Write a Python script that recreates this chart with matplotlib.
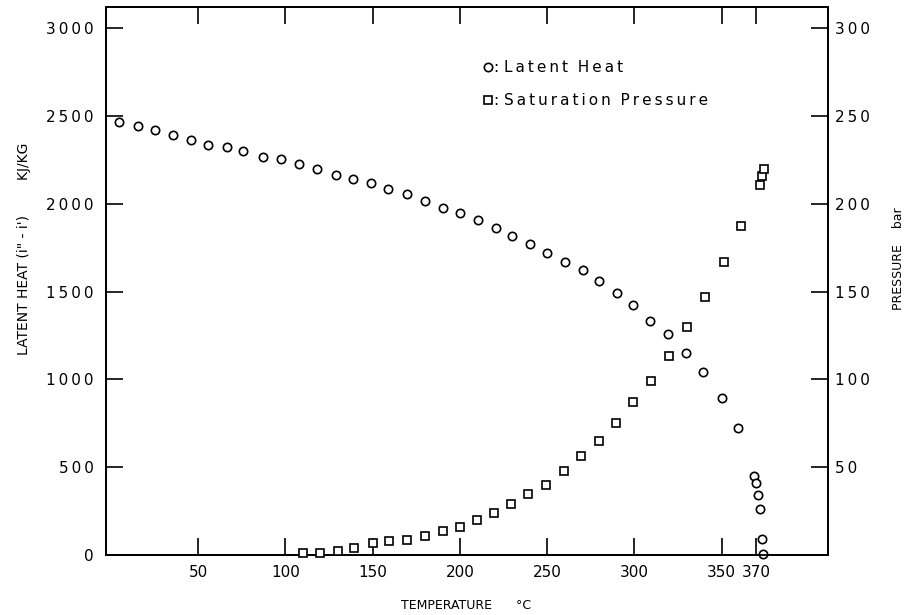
import matplotlib
matplotlib.use("Agg")
import matplotlib.pyplot as plt

plt.rcParams['font.family'] = ['DejaVu Sans']

# latent heat (circles)
temp_latent = [4.7, 15.6, 25.3, 35.7, 46, 55.7, 66.6, 75.8, 87.3, 97.6, 107.9, 118.2,
               129.1, 138.9, 149.2, 158.9, 169.8, 180.2, 190.5, 200.2, 210.5, 220.9,
               230, 240.4, 250.1, 260.4, 270.7, 279.9, 290.2, 299.5, 309.2, 319.5,
               329.8, 339.6, 350.4, 359.6, 368.8, 369.9, 371.1, 372.2, 373.4, 373.9]
latent_heat = [2463, 2442, 2419, 2390, 2362, 2334, 2324, 2300, 2267, 2252, 2226, 2195,
               2163, 2138, 2116, 2082, 2053, 2015, 1973, 1945, 1907, 1863,
               1816, 1769, 1717, 1666, 1622, 1560, 1493, 1423, 1334, 1256,
               1152, 1044, 896, 721, 451, 408, 342, 260, 91, 6]

# saturation pressure (squares)
temp_press = [110.3, 120, 130, 139.4, 150.2, 159.5, 170, 180.2, 190.3, 200.2, 209.8,
              219.7, 229.3, 239.2, 249.5, 259.5, 269.4, 280, 289.7, 299.3, 309.6,
              319.7, 330, 340.7, 351.2, 361.4, 372.3, 373.2, 374.2]
pressure = [1.1, 1.3, 2.3, 4.2, 6.7, 8.0, 8.5, 11.0, 13.8, 16.1, 19.9,
            24.1, 29.0, 34.6, 40.1, 48.0, 56.3, 65.1, 75.3, 87.3, 99.0,
            113.4, 129.9, 147.0, 166.9, 187.4, 210.6, 215.7, 219.5]

x_ticks = [50, 100, 150, 200, 250, 300, 350, 370]
left_ticks = [0, 500, 1000, 1500, 2000, 2500, 3000]
right_ticks = [50, 100, 150, 200, 250, 300]
right_labels = ["50", "100", "150", "200", "250", "300"]

TS = "\u2009"  # thin space, the original labels are letter-spaced


def spaced(s):
    return TS.join(s)


fig = plt.figure(figsize=(9.11, 6.15), dpi=100)
ax = fig.add_axes([0.1164, 0.0976, 0.7925, 0.891])
ax2 = ax.twinx()

ax.plot(temp_latent, latent_heat, 'o', ms=6, mfc='white', mec='black', mew=1.2,
        clip_on=False, zorder=3)
ax2.plot(temp_press, pressure, 's', ms=6, mfc='white', mec='black', mew=1.2,
         clip_on=False, zorder=3)

ax.set_xlim(-2.75, 411)
ax.set_ylim(0, 3120)
ax2.set_ylim(0, 312)

ax.set_xticks(x_ticks)
ax.set_xticklabels([str(t) for t in x_ticks], fontsize=11)
ax.set_yticks(left_ticks)
ax.set_yticklabels([spaced(str(t)) for t in left_ticks], fontsize=11)
ax2.set_yticks(right_ticks)
ax2.set_yticklabels([spaced(t) for t in right_labels], fontsize=11)

ax.tick_params(axis='x', direction='in', length=12, width=1.2, top=True,
               labeltop=False, pad=7)
ax.tick_params(axis='y', direction='in', length=12, width=1.2, right=False, pad=9)
ax2.tick_params(axis='y', direction='in', length=12, width=1.2, pad=5)

for a in (ax, ax2):
    for s in a.spines.values():
        s.set_linewidth(1.3)
        s.set_color('black')

# the "0" tick of the left axis sits on the spine, hide its tick mark
ax.yaxis.get_major_ticks()[0].tick1line.set_visible(False)

# legend drawn as text with hand-placed markers
ax.plot([0.529], [0.8905], 'o', ms=6, mfc='white', mec='black', mew=1.2,
        transform=ax.transAxes)
ax.text(0.538, 0.8905, ": " + spaced("Latent") + "  " + spaced("Heat"),
        transform=ax.transAxes, fontsize=11, va='center', ha='left')
ax.plot([0.529], [0.830], 's', ms=6, mfc='white', mec='black', mew=1.2,
        transform=ax.transAxes)
ax.text(0.538, 0.830, ": " + spaced("Saturation") + "  " + spaced("Pressure"),
        transform=ax.transAxes, fontsize=11, va='center', ha='left')

fig.text(0.026, 0.596, "LATENT HEAT (i\" - i')        KJ/KG", rotation=90,
         fontsize=10, ha='center', va='center')
fig.text(0.986, 0.58, "PRESSURE    bar", rotation=90,
         fontsize=9, ha='center', va='center')
fig.text(0.512, 0.016, "TEMPERATURE      \u00b0C", fontsize=9,
         ha='center', va='center')

fig.savefig("out.png", dpi=100)
